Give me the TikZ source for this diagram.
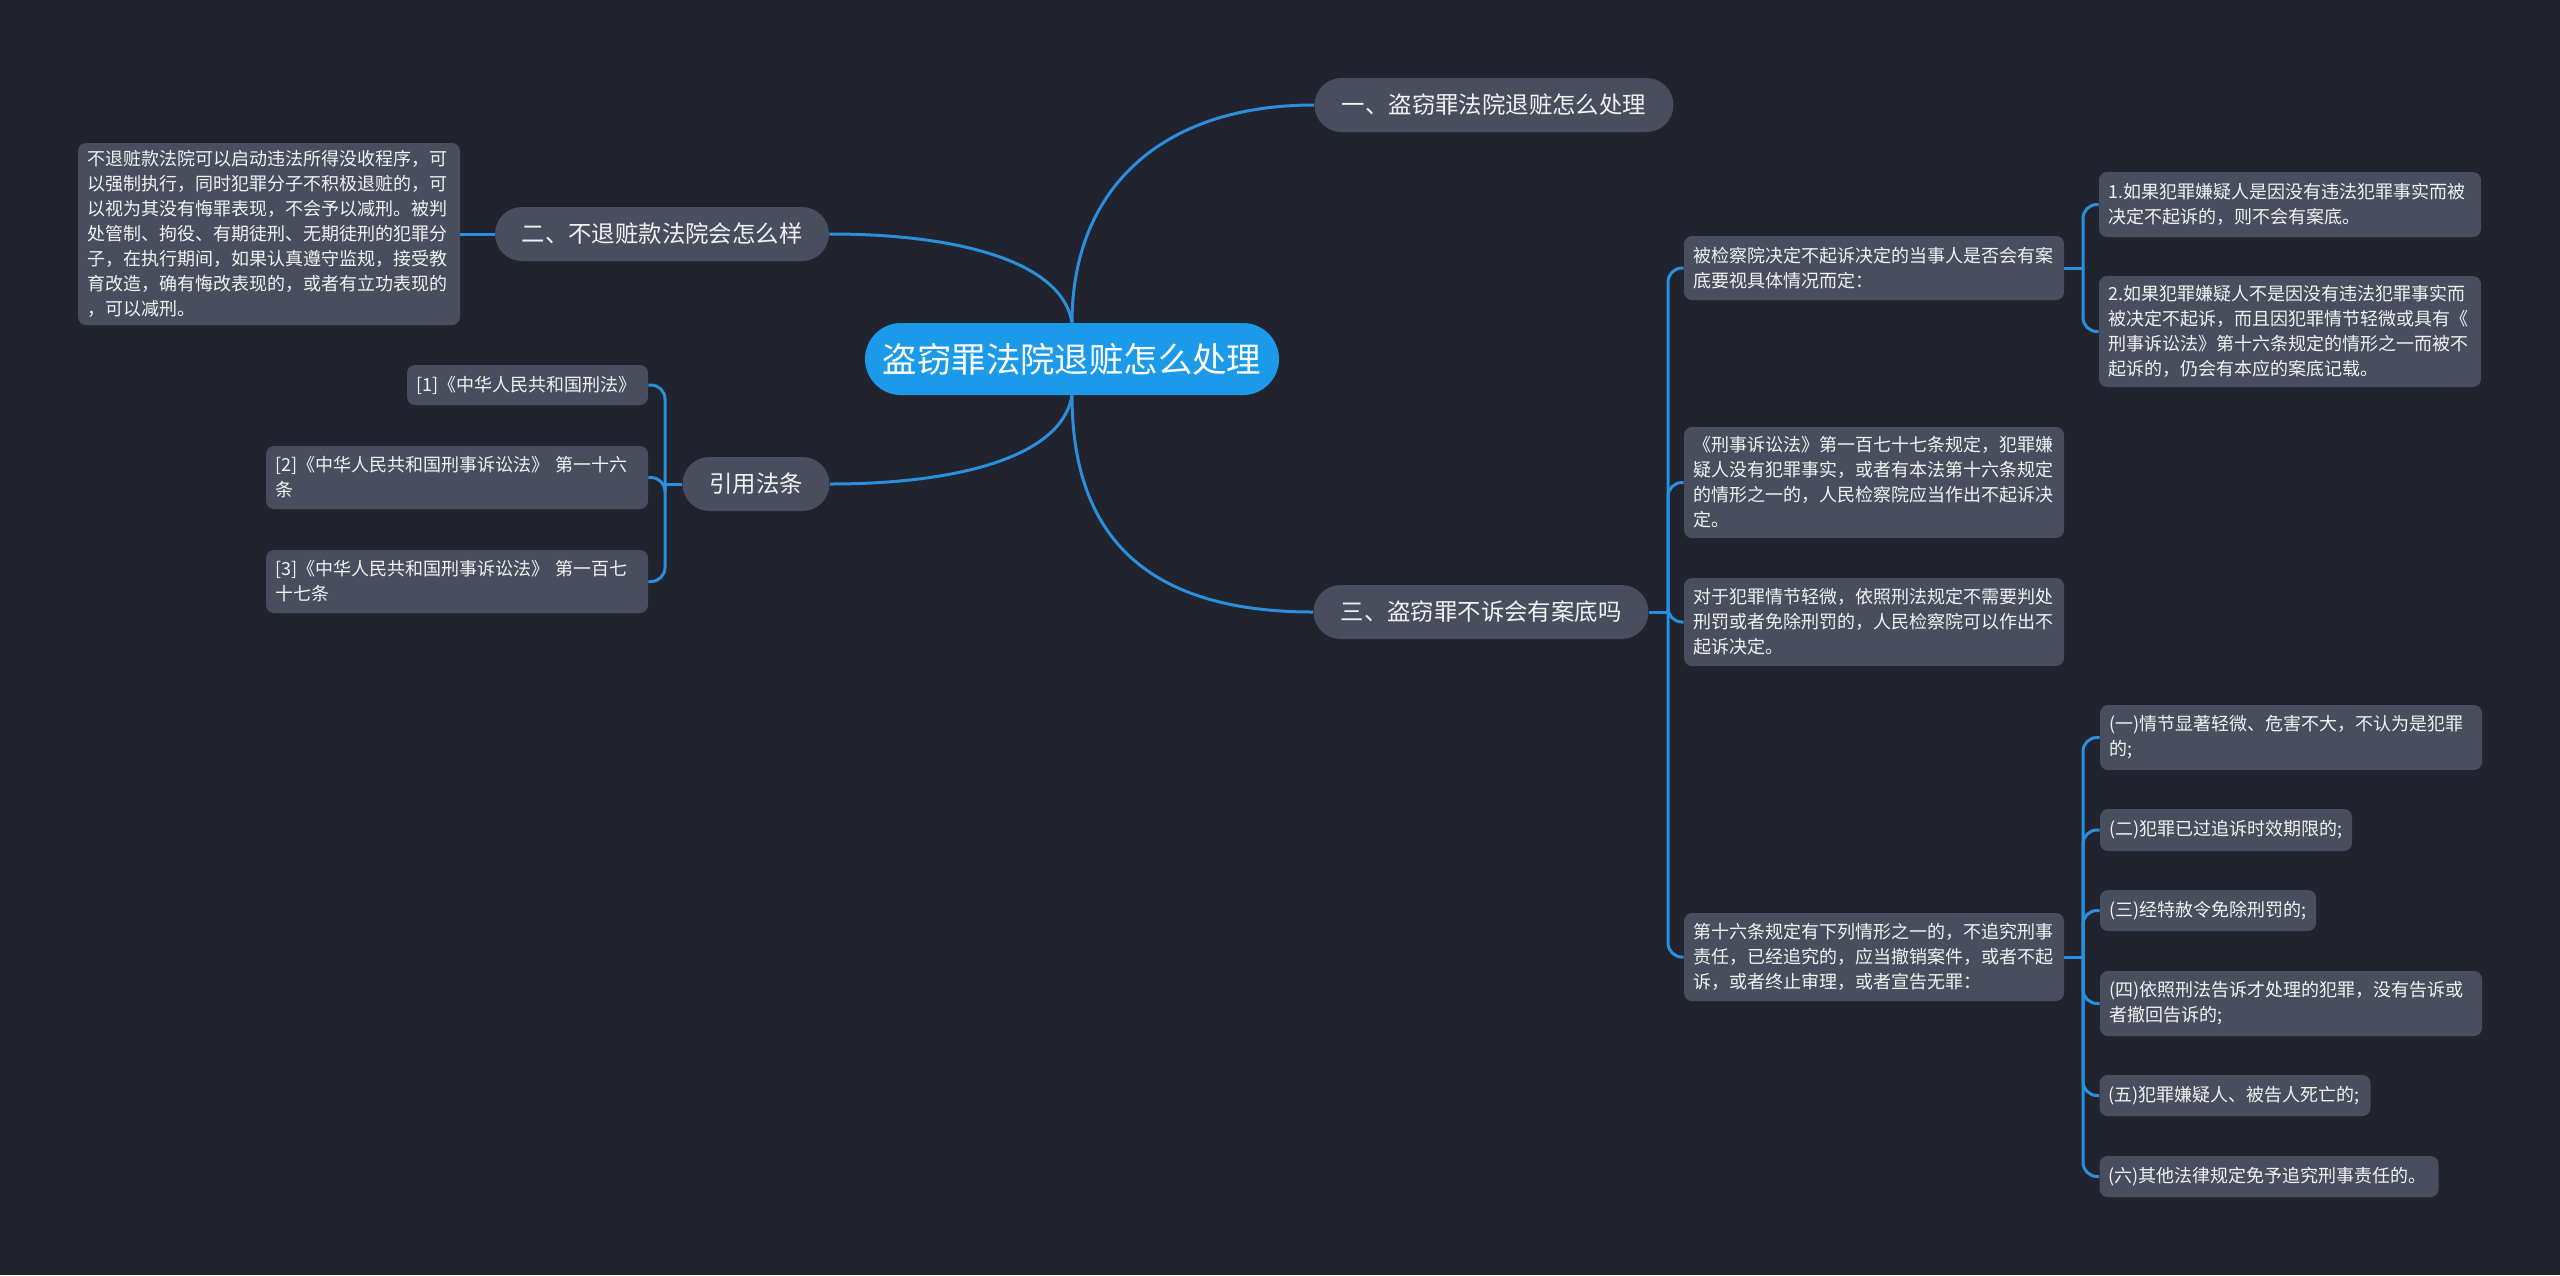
\documentclass[tikz,border=0pt]{standalone}
\usepackage{fontspec}
\newfontfamily\cjk{Noto Sans CJK SC}
\definecolor{bg}{RGB}{33,36,47}
\definecolor{nodefill}{RGB}{72,78,94}
\definecolor{rootfill}{RGB}{28,154,234}
\definecolor{linkc}{RGB}{42,143,220}
\definecolor{txt}{RGB}{242,242,242}
\begin{document}
\begin{tikzpicture}[x=0.5pt,y=-0.5pt,
  pill/.style={fill=nodefill, rounded corners=13.5pt, minimum height=27pt, inner xsep=0pt, inner ysep=0pt, text=txt, font=\fontsize{11.7}{14}\selectfont\cjk},
  rootnode/.style={fill=rootfill, rounded corners=18pt, minimum height=36pt, minimum width=207pt, inner sep=0pt, text=white, font=\fontsize{17.2}{20}\selectfont\cjk},
  textbox/.style={fill=nodefill, rounded corners=4pt, text=txt, font=\fontsize{9}{12.5}\selectfont\cjk, align=left, inner xsep=4.5pt, inner ysep=0pt},
  link/.style={draw=linkc, line width=1.5pt},
  bracket/.style={link, rounded corners=7pt}
]
\fill[bg] (0,0) rectangle (2560,1275);
\useasboundingbox (0,0) rectangle (2560,1275);

% root and main branches
\node[rootnode] (root) at (1072,359) {盗窃罪法院退赃怎么处理};
\node[pill, minimum width=179.5pt] (one) at (1494,105) {一、盗窃罪法院退赃怎么处理};
\node[pill, minimum width=167pt] (two) at (662,234) {二、不退赃款法院会怎么样};
\node[pill, minimum width=73.5pt] (cite) at (756,484) {引用法条};
\node[pill, minimum width=167.5pt] (three) at (1481,612) {三、盗窃罪不诉会有案底吗};

% left text
\node[textbox, text width=182pt, minimum height=91pt] (twotext) at (269,234) {不退赃款法院可以启动违法所得没收程序，可\\以强制执行，同时犯罪分子不积极退赃的，可\\以视为其没有悔罪表现，不会予以减刑。被判\\处管制、拘役、有期徒刑、无期徒刑的犯罪分\\子，在执行期间，如果认真遵守监规，接受教\\育改造，确有悔改表现的，或者有立功表现的\\，可以减刑。};

% citations
\node[textbox, text width=111.5pt, minimum height=20pt] (c1) at (527.5,385) {[1]《中华人民共和国刑法》};
\node[textbox, text width=182pt, minimum height=31.5pt] (c2) at (457,477.5) {[2]《中华人民共和国刑事诉讼法》 第一十六\\条};
\node[textbox, text width=182pt, minimum height=31.5pt] (c3) at (457,581.5) {[3]《中华人民共和国刑事诉讼法》 第一百七\\十七条};

% branch three children
\node[textbox, text width=181pt, minimum height=32pt] (A) at (1874,268) {被检察院决定不起诉决定的当事人是否会有案\\底要视具体情况而定：};
\node[textbox, text width=182pt, minimum height=32.5pt] (A1) at (2290,204.5) {1.如果犯罪嫌疑人是因没有违法犯罪事实而被\\决定不起诉的，则不会有案底。};
\node[textbox, text width=182pt, minimum height=55.5pt] (A2) at (2290,331.5) {2.如果犯罪嫌疑人不是因没有违法犯罪事实而\\被决定不起诉，而且因犯罪情节轻微或具有《\\刑事诉讼法》第十六条规定的情形之一而被不\\起诉的，仍会有本应的案底记载。};
\node[textbox, text width=181pt, minimum height=55.5pt] (B) at (1874,482.5) {《刑事诉讼法》第一百七十七条规定，犯罪嫌\\疑人没有犯罪事实，或者有本法第十六条规定\\的情形之一的，人民检察院应当作出不起诉决\\定。};
\node[textbox, text width=181pt, minimum height=44pt] (C) at (1874,622) {对于犯罪情节轻微，依照刑法规定不需要判处\\刑罚或者免除刑罚的，人民检察院可以作出不\\起诉决定。};
\node[textbox, text width=181pt, minimum height=44pt] (D) at (1874,957) {第十六条规定有下列情形之一的，不追究刑事\\责任，已经追究的，应当撤销案件，或者不起\\诉，或者终止审理，或者宣告无罪：};

\node[textbox, text width=182pt, minimum height=32.5pt] (D1) at (2291,737.5) {(一)情节显著轻微、危害不大，不认为是犯罪\\的;};
\node[textbox, text width=117pt, minimum height=21pt] (D2) at (2226,830) {(二)犯罪已过追诉时效期限的;};
\node[textbox, text width=99pt, minimum height=20.5pt] (D3) at (2208,910.5) {(三)经特赦令免除刑罚的;};
\node[textbox, text width=182pt, minimum height=32.5pt] (D4) at (2291,1003.5) {(四)依照刑法告诉才处理的犯罪，没有告诉或\\者撤回告诉的;};
\node[textbox, text width=126.5pt, minimum height=20.5pt] (D5) at (2235,1095.5) {(五)犯罪嫌疑人、被告人死亡的;};
\node[textbox, text width=160.5pt, minimum height=20.5pt] (D6) at (2269,1176.5) {(六)其他法律规定免予追究刑事责任的。};

% root connectors
\draw[link] (root.north) .. controls (1072,190) and (1160,105) .. (one.west);
\draw[link] (root.north) .. controls (1062,262) and (960,234) .. (two.east);
\draw[link] (root.south) .. controls (1062,456) and (960,484) .. (cite.east);
\draw[link] (root.south) .. controls (1072,540) and (1150,612) .. (three.west);

% two -> text
\draw[link] (two.west) -- (twotext.east);

% citations bracket
\coordinate (jc) at (665,484);
\draw[link] (cite.west) -- (jc);
\draw[bracket] (jc) |- (c1.east);
\draw[bracket] (jc) |- (c2.east);
\draw[bracket] (jc) |- (c3.east);

% three bracket
\coordinate (j3) at (1668,612);
\draw[link] (three.east) -- (j3);
\draw[bracket] (j3) |- (A.west);
\draw[bracket] (j3) |- (B.west);
\draw[bracket] (j3) |- (C.west);
\draw[bracket] (j3) |- (D.west);

% A bracket
\coordinate (jA) at (2083,268);
\draw[link] (A.east) -- (jA);
\draw[bracket] (jA) |- (A1.west);
\draw[bracket] (jA) |- (A2.west);

% D bracket
\coordinate (jD) at (2083,957);
\draw[link] (D.east) -- (jD);
\draw[bracket] (jD) |- (D1.west);
\draw[bracket] (jD) |- (D2.west);
\draw[bracket] (jD) |- (D3.west);
\draw[bracket] (jD) |- (D4.west);
\draw[bracket] (jD) |- (D5.west);
\draw[bracket] (jD) |- (D6.west);
\end{tikzpicture}
\end{document}
